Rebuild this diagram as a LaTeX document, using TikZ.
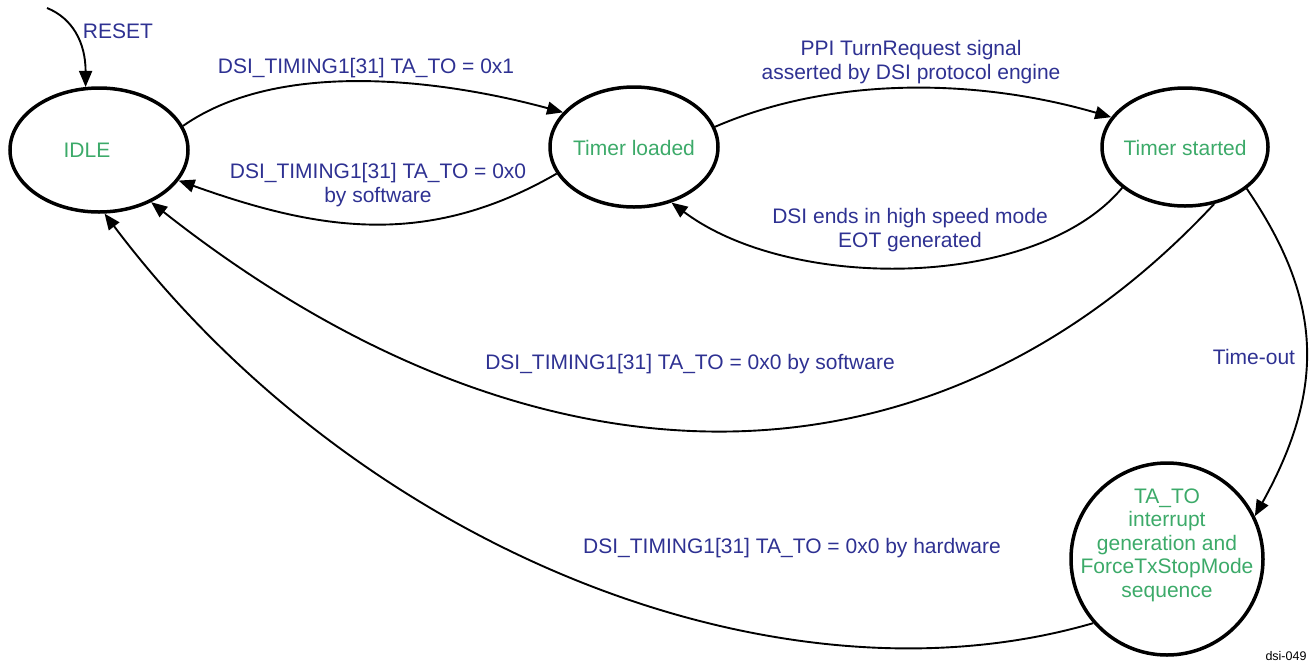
\documentclass[tikz,border=0pt]{standalone}
\usepackage{fontspec}
\setmainfont{Liberation Sans}
\usetikzlibrary{shapes.geometric,arrows.meta}
\definecolor{lblblue}{RGB}{46,49,146}
\definecolor{stgreen}{RGB}{60,170,105}
\begin{document}
\begin{tikzpicture}[x=1pt,y=-1pt,
  state/.style={ellipse,draw=black,line width=3.5pt,inner sep=0pt},
  stext/.style={text=stgreen,font=\fontsize{21}{23.5}\selectfont,align=center,inner sep=0pt},
  lbl/.style={text=lblblue,font=\fontsize{21}{23.5}\selectfont,align=center,inner sep=0pt},
  conn/.style={line width=1.9pt,-{Triangle[length=16pt,width=13pt]}}]
\useasboundingbox (0,0) rectangle (1310,662);
% states
\node[state,minimum width=178pt,minimum height=124pt] (idle) at (99,150) {};
\node[state,minimum width=168pt,minimum height=120pt] (tl) at (634,147) {};
\node[state,minimum width=166pt,minimum height=118pt] (ts) at (1185,147) {};
\node[state,circle,minimum size=192pt] (ta) at (1167,559) {};
% state texts
\node[stext] (idlet) at (87,150) {IDLE};
\node[stext] (tlt) at (634,148) {Timer loaded};
\node[stext] (tst) at (1185,148) {Timer started};
\node[stext] (tat) at (1167,545) {TA\_TO\\interrupt\\generation and\\ForceTxStopMode\\sequence};
% connectors
\coordinate (rs) at (47,8);
\draw[conn] (rs) .. controls +(25,10) and +(0,-45) .. (idle.102);
\draw[conn] (idle.16) .. controls +(100,-70) and +(-110,-30) .. (tl.154);
\draw[conn] (tl.199) .. controls +(-130,75) and +(140,50) .. (idle.-21);
\draw[conn] (tl.14) .. controls +(120,-52) and +(-130,-38) .. (ts.158);
\draw[conn] (ts.213) .. controls +(-85,102) and +(120,90) .. (tl.-56);
\draw[conn] (ts.-63) .. controls +(-280,300) and +(388,306) .. (idle.-45);
\draw[conn] (ts.-34) .. controls +(75,110) and +(72,-130) .. (ta.26);
\draw[conn] (ta.221) .. controls +(-320,93) and +(250,332) .. (idle.-85);
% labels
\node[lbl] (lreset) at (118,31) {RESET};
\node[lbl] (l2) at (366,68) {DSI\_TIMING1[31] TA\_TO = 0x1};
\node[lbl] (l3) at (378,185) {DSI\_TIMING1[31] TA\_TO = 0x0\\by software};
\node[lbl] (l4) at (911,62) {PPI TurnRequest signal\\asserted by DSI protocol engine};
\node[lbl] (l5) at (910,230) {DSI ends in high speed mode\\EOT generated};
\node[lbl] (l6) at (690,364) {DSI\_TIMING1[31] TA\_TO = 0x0 by software};
\node[lbl] (l7) at (1254,357) {Time-out};
\node[lbl] (l8) at (792,548) {DSI\_TIMING1[31] TA\_TO = 0x0 by hardware};
\node[font=\fontsize{12.5}{14}\selectfont,inner sep=0pt] (fig) at (1286,656) {dsi-049};
\end{tikzpicture}
\end{document}
